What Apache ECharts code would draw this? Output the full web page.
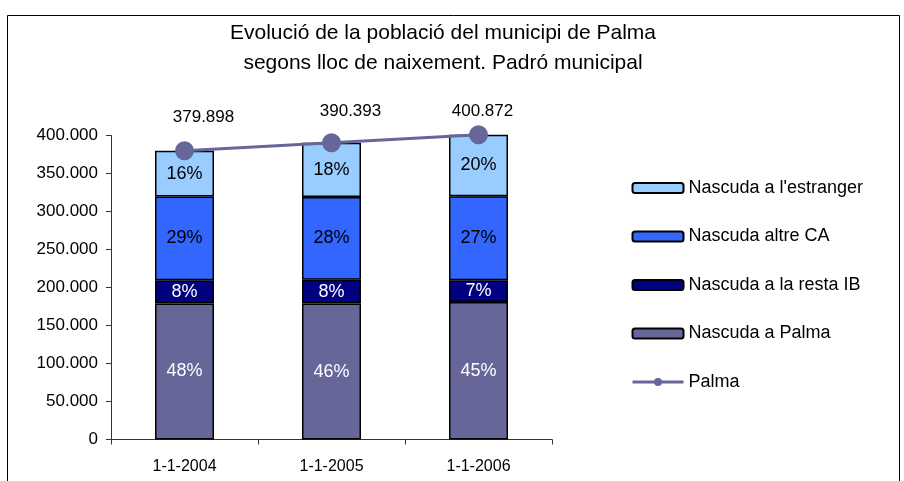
<!DOCTYPE html>
<html>
<head>
<meta charset="utf-8">
<script src="https://cdn.jsdelivr.net/npm/echarts@6/dist/echarts.min.js"></script>
<style>
html,body{margin:0;padding:0;background:#fff;}
#chart{width:904px;height:481px;}
</style>
</head>
<body>
<div id="chart"></div>
<script>
var categories = ['1-1-2004', '1-1-2005', '1-1-2006'];
var nascudaPalma = [179000, 178800, 180800];
var nascudaRestaIB = [30500, 31300, 28600];
var nascudaAltreCA = [110200, 109000, 110700];
var nascudaEstranger = [60198, 71293, 80772];
var totalPalma = [379898, 390393, 400872];
var pctPalma = ['48%', '46%', '45%'];
var pctRestaIB = ['8%', '8%', '7%'];
var pctAltreCA = ['29%', '28%', '27%'];
var pctEstranger = ['16%', '18%', '20%'];
var yTicks = [0, 50000, 100000, 150000, 200000, 250000, 300000, 350000, 400000];

var FONT = '"Liberation Sans", Arial, sans-serif';
function fmt(v) {
  return String(v).replace(/\B(?=(\d{3})+(?!\d))/g, '.');
}
var totalLabelOffsets = [[19, -10], [19, -8], [4, -1]];

var chart = echarts.init(document.getElementById('chart'));
function barSeries(name, data, color, pct, labelColor) {
  return {
    name: name, type: 'bar', stack: 'total', data: data, barWidth: 59,
    itemStyle: { color: color, borderColor: '#000', borderWidth: 1.5 },
    label: {
      show: true, position: 'inside', color: labelColor,
      fontFamily: FONT, fontSize: 18,
      formatter: function (p) { return pct[p.dataIndex]; }
    },
    emphasis: { disabled: true }
  };
}
var option = {
  animation: false,
  backgroundColor: '#fff',
  graphic: [{
    type: 'rect', shape: { x: 7.5, y: 15.5, width: 892, height: 480 },
    style: { fill: 'none', stroke: '#000', lineWidth: 1 }, silent: true, z: -1
  }],
  title: {
    text: 'Evolució de la població del municipi de Palma\nsegons lloc de naixement. Padró municipal',
    left: 438, top: 13, textAlign: 'center',
    textStyle: { fontFamily: FONT, fontSize: 21, fontWeight: 'normal', color: '#000', lineHeight: 30 }
  },
  legend: {
    orient: 'vertical', left: 631, top: 179, padding: 0,
    itemWidth: 51, itemHeight: 10, itemGap: 30.5,
    data: ['Nascuda a l\'estranger', 'Nascuda altre CA', 'Nascuda a la resta IB', 'Nascuda a Palma',
      { name: 'Palma', lineStyle: { width: 3 } }],
    textStyle: { fontFamily: FONT, fontSize: 18, color: '#000', padding: [0, 0, 0, 0] }
  },
  grid: { left: 111, top: 135.5, width: 441, height: 304 },
  xAxis: {
    type: 'category', data: categories,
    axisLine: { lineStyle: { color: '#333', width: 1 } },
    axisTick: { show: true, length: 5, lineStyle: { color: '#333' } },
    axisLabel: { fontFamily: FONT, fontSize: 16, color: '#000', margin: 19 }
  },
  yAxis: {
    type: 'value', min: 0, max: 400000, interval: 50000,
    splitLine: { show: false },
    axisLine: { show: true, lineStyle: { color: '#333', width: 1 } },
    axisTick: { show: true, length: 5, lineStyle: { color: '#333' } },
    axisLabel: { fontFamily: FONT, fontSize: 17, color: '#000', margin: 13,
      formatter: function (v) { return fmt(v); } }
  },
  series: [
    barSeries('Nascuda a Palma', nascudaPalma, '#666699', pctPalma, '#fff'),
    barSeries('Nascuda a la resta IB', nascudaRestaIB, '#000080', pctRestaIB, '#fff'),
    barSeries('Nascuda altre CA', nascudaAltreCA, '#3366FF', pctAltreCA, '#000'),
    barSeries('Nascuda a l\'estranger', nascudaEstranger, '#99CCFF', pctEstranger, '#000'),
    {
      name: 'Palma', type: 'line', clip: false,
      data: totalPalma.map(function (v, i) {
        return { value: v, label: { offset: totalLabelOffsets[i] } };
      }),
      symbol: 'circle', symbolSize: 19,
      lineStyle: { color: '#666699', width: 3 },
      itemStyle: { color: '#666699' },
      label: {
        show: true, position: 'top', color: '#000', fontFamily: FONT, fontSize: 17,
        formatter: function (p) { return fmt(p.value); }
      },
      emphasis: { disabled: true },
      z: 5
    }
  ]
};
chart.setOption(option);
</script>
</body>
</html>
